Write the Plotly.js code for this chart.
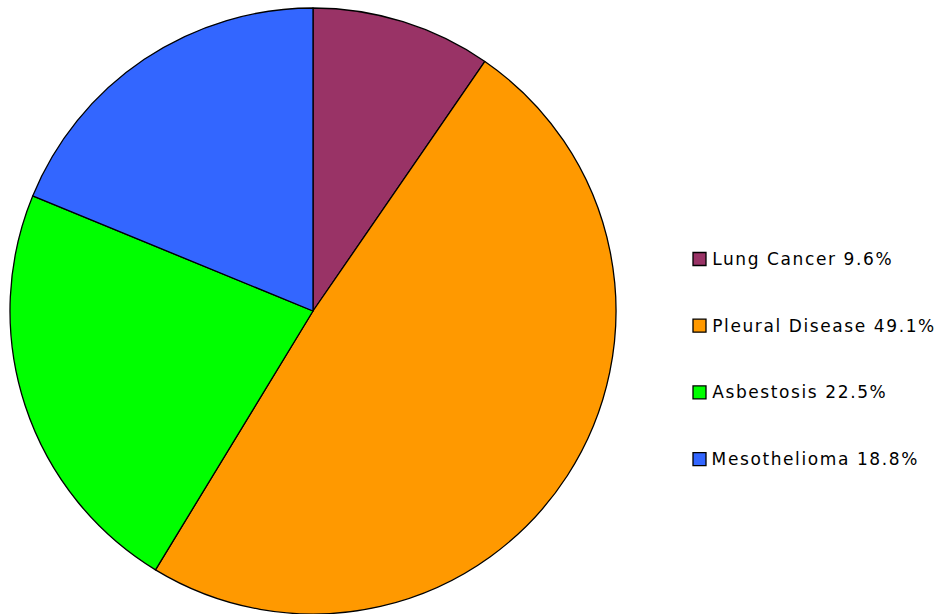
<!DOCTYPE html>
<html>
<head>
<meta charset="utf-8">
<script src="https://cdn.plot.ly/plotly-3.0.1.min.js"></script>
<style>html,body{margin:0;padding:0;background:#fff;}#chart{width:940px;height:614px;}
#chart .annotation-text{letter-spacing:1.6px;}</style>
</head>
<body>
<div id="chart"></div>
<script>
const categories = ["Lung Cancer", "Pleural Disease", "Asbestosis", "Mesothelioma"];
const values = [9.6, 49.1, 22.5, 18.8];
const colors = ["#993366", "#FF9900", "#00FF00", "#3366FF"];

const W = 940, H = 614;
const margin = {l: 10, r: 324, t: 8, b: 0};
const plotW = W - margin.l - margin.r, plotH = H - margin.t - margin.b;
const px = x => (x - margin.l) / plotW;
const py = y => 1 - (y - margin.t) / plotH;
const LETTER_SPACING = 1.6;

const trace = {
  type: "pie",
  labels: categories,
  values: values,
  sort: false,
  direction: "clockwise",
  rotation: 0,
  textinfo: "none",
  hoverinfo: "label+percent",
  marker: {colors: colors, line: {color: "#000", width: 1.3}},
  showlegend: false
};

const shapes = [], annotations = [];
const rowY0 = 259, rowGap = 66.7, sq = 13;
categories.forEach((c, i) => {
  const cy = rowY0 + i * rowGap;
  const label = c + " " + values[i].toFixed(1) + "%";
  shapes.push({type: "rect", xref: "paper", yref: "paper",
    x0: px(693), x1: px(693 + sq), y0: py(cy - sq / 2), y1: py(cy + sq / 2),
    fillcolor: colors[i], line: {color: "#000", width: 1.3}});
  annotations.push({xref: "paper", yref: "paper",
    x: px(710 + LETTER_SPACING * label.length / 2), y: py(cy),
    xanchor: "left", yanchor: "middle", showarrow: false,
    text: label,
    font: {family: "DejaVu Sans, Verdana, sans-serif", size: 17, color: "#000"}});
});

const layout = {
  width: W, height: H,
  margin: margin,
  paper_bgcolor: "#fff", plot_bgcolor: "#fff",
  showlegend: false,
  shapes: shapes,
  annotations: annotations
};
Plotly.newPlot("chart", [trace], layout, {displayModeBar: false, staticPlot: true});
</script>
</body>
</html>
